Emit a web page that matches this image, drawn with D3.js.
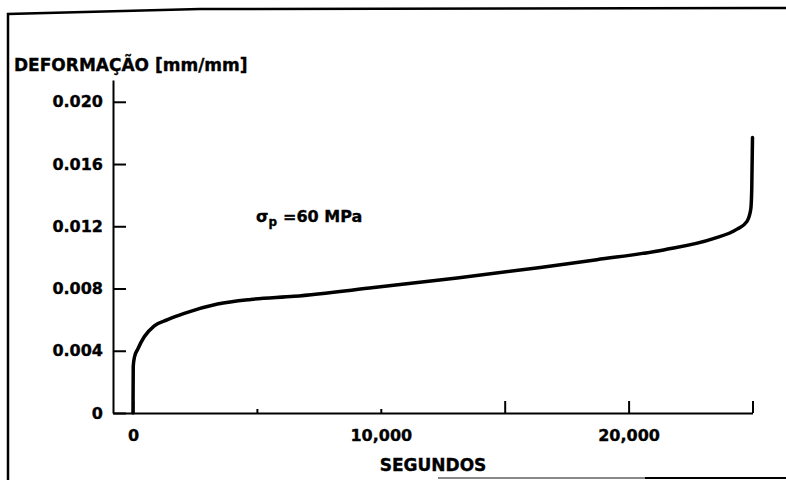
<!DOCTYPE html>
<html>
<head>
<meta charset="utf-8">
<script src="https://cdn.jsdelivr.net/npm/d3@7"></script>
<style>
  html, body { margin: 0; padding: 0; background: #fff; }
  svg { display: block; font-family: "DejaVu Sans", sans-serif; font-weight: bold; }
  svg text { stroke: #000; stroke-width: 0.35px; }
</style>
</head>
<body>
<svg id="chart" width="786" height="480"></svg>
<script>
// Creep curve: strain versus time at constant stress
const timeSec = [0, 10, 60, 190, 455, 860, 1400, 2070, 3410, 4750, 6500, 9720, 13080, 16440, 18720, 21410, 23420, 24360, 24770, 24930, 24970, 25000];
const strain  = [0, 0.0030, 0.0036, 0.0041, 0.0049, 0.0056, 0.0060, 0.0064, 0.0070, 0.0073, 0.0075, 0.00806, 0.00868, 0.00935, 0.00985, 0.01048, 0.0112, 0.0118, 0.0123, 0.0131, 0.0144, 0.0177];

const xTicks = [0, 5000, 10000, 15000, 20000, 25000];
const xLabelled = [0, 10000, 20000];
const yTicks = [0, 0.004, 0.008, 0.012, 0.016, 0.020];

const yTitle = "DEFORMAÇÃO [mm/mm]";
const xTitle = "SEGUNDOS";

const svg = d3.select("#chart");

const x = d3.scaleLinear().domain([-807, 25000]).range([113, 752.5]);
const y = d3.scaleLinear().domain([0, 0.0214]).range([413, 80]);

// page frame
svg.append("path")
  .attr("d", "M8,480 L8,14 L200,9 L786,8")
  .attr("fill", "none").attr("stroke", "#000").attr("stroke-width", 2.5);
svg.append("line").attr("x1", 438).attr("x2", 645).attr("y1", 478).attr("y2", 478)
  .attr("stroke", "#888").attr("stroke-width", 2);
svg.append("line").attr("x1", 645).attr("x2", 786).attr("y1", 478).attr("y2", 478)
  .attr("stroke", "#000").attr("stroke-width", 2);

// axes
const yFmt = d => d === 0 ? "0" : d3.format(".3f")(d);
const gy = svg.append("g").attr("transform", `translate(${x.range()[0]},0)`)
  .call(d3.axisLeft(y).tickValues(yTicks).tickFormat(yFmt)
    .tickSizeInner(-13).tickSizeOuter(0).tickPadding(10));

const gx = svg.append("g").attr("transform", `translate(0,${y(0)})`)
  .call(d3.axisBottom(x).tickValues(xTicks)
    .tickFormat(d => xLabelled.includes(d) ? d3.format(",")(d) : "")
    .tickSizeInner(-12).tickSizeOuter(0).tickPadding(17));

[gx, gy].forEach(g => {
  g.select(".domain").attr("stroke", "#000").attr("stroke-width", 2);
  g.selectAll(".tick line").attr("stroke", "#000").attr("stroke-width", 2);
  g.selectAll(".tick text")
    .attr("fill", "#000")
    .style("font-family", "'DejaVu Sans', sans-serif")
    .style("font-weight", "bold")
    .style("font-size", "16px");
});
// the two lower-left time ticks are short
gx.selectAll(".tick").filter(d => d === 5000 || d === 10000)
  .select("line").attr("y2", -4);

// axis titles
svg.append("text").attr("x", 14).attr("y", 71)
  .style("font-size", "17px").attr("fill", "#000").text(yTitle);
svg.append("text").attr("x", 433).attr("y", 471).attr("text-anchor", "middle")
  .style("font-size", "17px").attr("fill", "#000").text(xTitle);

// stress annotation
const ann = svg.append("text").attr("x", 256).attr("y", 222)
  .style("font-size", "16px").attr("fill", "#000");
ann.append("tspan").text("σ");
ann.append("tspan").attr("dy", 4).style("font-size", "12px").text("p");
ann.append("tspan").attr("dy", -4).attr("x", 283).text("=60 MPa");

// creep curve
const pts = timeSec.map((t, i) => [t, strain[i]]);
const line = d3.line().x(d => x(d[0])).y(d => y(d[1])).curve(d3.curveMonotoneX);
svg.append("path").datum(pts)
  .attr("d", line)
  .attr("fill", "none").attr("stroke", "#000")
  .attr("stroke-width", 3.5).attr("stroke-linejoin", "round").attr("stroke-linecap", "round");
</script>
</body>
</html>
